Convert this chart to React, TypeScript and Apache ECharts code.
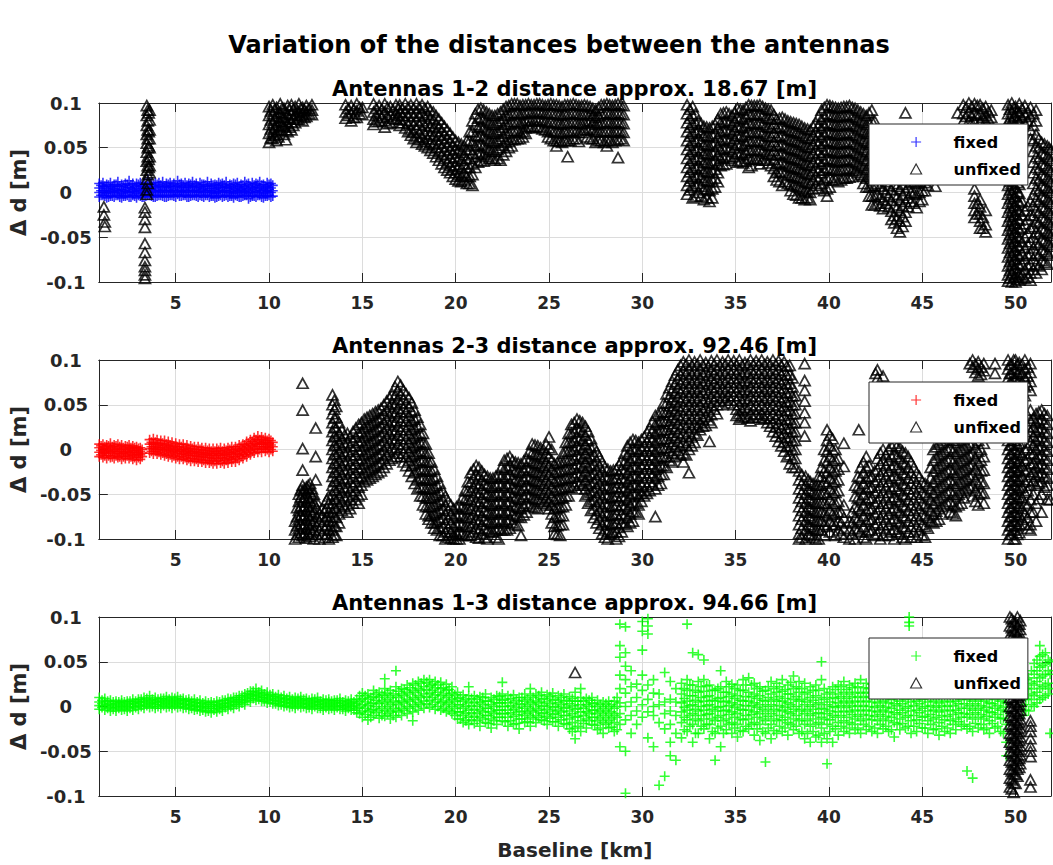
import React, { useEffect, useRef } from 'react';
import * as echarts from 'echarts';

// ---------- texts ----------
const mainTitle = 'Variation of the distances between the antennas';
const panelTitles = [
  'Antennas 1-2 distance approx. 18.67 [m]',
  'Antennas 2-3 distance approx. 92.46 [m]',
  'Antennas 1-3 distance approx. 94.66 [m]',
];
const legendLabels = ['fixed', 'unfixed'];
const xAxisTitle = 'Baseline [km]';
const yAxisTitle = '\u0394 d [m]';
const fixedColors = ['#0000ff', '#ff0000', '#00ff00'];

// ---------- data: rows are [baseline km, Δd values in mm ...] ----------
const fixed12: number[][] = [
  [0.9,-5,0,5,10],[1.1,-3,2,7,11],[1.3,-6,-1,4,9],[1.5,-4,1,6,11],[1.7,-5,0,4,9],[1.9,-3,2,7,12],
  [2.1,-6,-1,3,9],[2.3,-4,1,5,10],[2.5,-5,0,6,13],[2.7,-3,1,5,10],[2.9,-6,-1,4,10],[3.1,-4,2,7,11],
  [3.3,-5,0,5,10],[3.5,-3,1,6,15],[3.7,-4,0,4,10],[3.9,-5,1,6,11],[4.1,-3,2,7,11],[4.3,-4,0,5,12],
  [4.5,-5,1,6,10],[4.7,-3,2,7,11],[4.9,-4,0,5,10],[5.1,-2,2,7,13],[5.3,-4,1,6,10],[5.5,-3,0,5,11],
  [5.7,-5,1,6,10],[5.9,-3,2,7,12],[6.1,-4,0,5,10],[6.3,-3,1,6,11],[6.5,-5,0,4,9],[6.7,-3,2,7,12],
  [6.9,-4,0,5,10],[7.1,-6,-1,4,9],[7.3,-4,1,6,11],[7.5,-5,0,5,10],[7.7,-3,2,6,12],[7.9,-4,0,5,9],
  [8.1,-6,-1,4,10],[8.3,-4,1,6,11],[8.5,-5,0,4,9],[8.7,-3,1,6,12],[8.9,-7,-1,4,10],[9.1,-4,0,5,11],
  [9.3,-5,1,6,10],[9.5,-3,0,5,12],[9.7,-6,-1,4,9],[9.9,-4,1,6,11],[10.1,-5,0,5,10],
];
const fixed12Extra: number[][] = [
  [1.0,-3,2,8],[1.2,-4,2,7],[1.4,-5,1,8],[1.6,-4,2,7],[1.8,-3,3,9],[2.0,-5,1,7],[2.2,-4,2,8],[2.4,-3,3,9],
  [2.6,-5,2,8],[2.8,-4,1,7],[3.0,-3,3,9],[3.2,-5,2,8],[3.4,-4,1,7],[3.6,-3,3,9],[3.8,-5,2,8],[4.0,-4,3,9],
  [4.2,-3,2,8],[4.4,-5,2,7],[4.6,-4,3,9],[4.8,-3,2,8],[5.0,-5,1,7],[5.2,-4,3,9],[5.4,-3,2,8],[5.6,-5,2,8],
  [5.8,-4,3,9],[6.0,-3,2,8],[6.2,-5,1,7],[6.4,-4,3,9],[6.6,-3,2,8],[6.8,-5,2,7],[7.0,-4,1,8],[7.2,-5,2,8],
  [7.4,-3,3,9],[7.6,-4,2,8],[7.8,-5,1,7],[8.0,-4,2,8],[8.2,-3,3,9],[8.4,-5,2,7],[8.6,-4,2,8],[8.8,-3,3,9],
  [9.0,-5,1,7],[9.2,-4,2,8],[9.4,-3,3,9],[9.6,-5,2,8],[9.8,-4,2,7],[10.0,-3,3,9],[10.2,-4,2,8],
];

const unfixed12: number[][] = [
  [1.15,-16,-25],[1.2,-33,-38],
  [3.35,-17,-22,-30,-39,-57,-67,-76,-83,-87,-92,-96],
  [3.45,97,86,75,65,55,45,35,25,15,3,-2],[3.55,89,68,52,37,28],[3.6,92,81,70,60,50,40,30,22],
  [10.0,96,86,76,66,56],[10.2,98,88,78,68,60],[10.4,95,85,75,65,58],[10.6,99,89,79,70],
  [10.8,94,84,74,65],[10.9,59],[11.0,97,87,77,68],[11.2,98,88,79,70],[11.4,96,86,78],
  [11.6,99,90,82],[11.8,95,87,80],[12.0,97,90,85],[12.3,98,92,87],
  [14.1,98,90,83],[14.4,97,88,80],[14.7,99,91,84],[15.0,95,87],
  [15.6,99,90,82,76],[15.9,97,88,80],[16.2,99,90,80,73],[16.5,96,87,78],[16.8,98,89,82],
  [17.0,98,90,82,75],[17.3,99,90,81,72],[17.6,98,89,80,70,64],[17.9,99,90,81,72,62,56],
  [18.2,98,89,80,71,62,54],[18.5,96,87,78,69,60,50],[18.8,90,81,72,63,54,44],
  [19.1,82,73,64,55,46,36],[19.4,74,65,56,47,38,28],[19.7,66,57,48,39,30,22],
  [20.0,58,49,40,31,22,15],[20.3,54,45,36,27,18,12],[20.6,58,48,38,28,18,10],
  [20.9,80,68,56,44,32,20,8],[21.2,93,83,73,63,53,43,34],[21.5,92,82,72,62,52,42,35],
  [21.8,88,78,68,58,48,38],[22.1,86,76,66,56,46,36],[22.4,90,80,70,60,50,36],
  [22.7,96,86,76,66,56,46],[23.0,99,89,79,69,59,52],[23.3,99,89,79,69,60],
  [23.6,98,88,78,68,62],[23.9,99,90,81,74],[24.2,98,89,80,72],[24.5,99,90,81,73],
  [24.8,97,88,79,70],[25.1,99,89,79,69,60],[25.4,98,88,78,68,58,52],[25.7,96,86,76,66,56],
  [26.0,98,88,78,68,58,40],[26.3,99,89,79,69,60],[26.6,97,87,77,67,57],[26.9,98,88,78,70],
  [27.2,96,88,80,72,60],[27.5,92,84,76,68,56],[27.8,98,88,78,68,58],[28.1,99,89,79,69,58,52],
  [28.4,97,87,77,67,56],[28.7,99,89,79,69,59,39],[29.0,97,87,77,67,58],
  [32.4,98,88,78,68,58,48,38,28,18,8,-2],[32.7,96,86,76,66,56,46,36,26,16,6,-6],
  [33.0,80,70,60,50,40,30,20,10,0],[33.3,74,64,54,44,34,24,14,4,-8],
  [33.6,72,62,52,42,32,22,12,2,-10],[33.9,76,66,56,46,36,26,16,6],
  [34.2,88,78,68,58,48,38,30],[34.5,90,80,70,60,50,40,32],[34.8,86,76,66,56,46,36],
  [35.1,94,84,74,64,54,44,34],[35.4,92,82,72,62,52,42,33],[35.7,98,88,78,68,58,48,38,28],
  [36.0,97,87,77,67,57,47,37],[36.3,98,88,78,68,58,48,38,32],[36.6,94,84,74,64,54,44,36],
  [36.9,92,82,72,62,52,42,30],[37.2,82,72,62,52,42,32,22,14],[37.5,84,74,64,54,44,34,24,8],
  [37.8,80,70,60,50,40,30,20,10],[38.1,78,68,58,48,38,28,18,8,-2],[38.4,76,66,56,46,36,26,16,6,-6],
  [38.7,72,62,52,42,32,22,12,2,-8],[39.0,70,60,50,40,30,20,10,0,-8],[39.3,78,68,58,48,38,28,18,8],
  [39.6,92,82,72,62,52,42,32,22,10],[39.9,98,88,78,68,58,48,38,28,16,4,-4],
  [40.2,96,86,76,66,56,46,36,26,14],[40.5,94,84,74,64,54,44,34,24,12],
  [40.8,96,86,76,66,56,46,36,26,16],[41.1,97,87,77,67,57,47,37,27,17],
  [41.4,94,84,74,64,54,44,34,24],[41.7,90,80,70,60,50,40,30,20],[42.0,86,76,66,56,46,36,26,16,6],
  [42.3,92,80,68,56,44,32,20,8,-4,-14],[42.6,70,58,46,34,22,10,-2,-12],[42.9,64,52,40,28,16,4,-8,-18],
  [43.2,56,44,32,20,8,-4,-16],[43.5,46,34,22,10,-2,-14,-26,-34],[43.8,40,28,16,4,-8,-20,-32,-44],
  [44.1,89,50,38,26,14,2,-10,-22,-32],[44.4,60,48,36,24,12,0,-10],[44.7,58,46,34,22,10,-2,-17],
  [45.0,62,50,38,26,14,2,-8],[45.3,56,44,32,20,8],[45.7,7],[46.9,89],
  [47.2,98,88,80],[47.5,100,90,80],[47.8,99,89,79,4,-4,-12,-20,-28],
  [48.1,98,88,79,-8,-16,-24,-32,-40],[48.4,96,86,80,-20,-36,-44],[48.7,92,84],
  [49.6,98,88,78,68,58,48,38,28,18,8,-2,-12,-22,-32,-42,-52,-62,-72,-82,-92,-99],
  [49.8,100,90,80,70,60,50,40,30,20,10,0,-10,-20,-30,-40,-50,-60,-70,-80,-90,-100],
  [50.0,96,86,76,66,56,46,36,26,16,6,-4,-14,-24,-34,-44,-54,-64,-74,-84,-94,-100],
  [50.2,99,89,79,69,59,49,39,29,19,9,-1,-11,-21,-31,-41,-51,-61,-71,-81,-91,-98],
  [50.5,97,87,77,-20,-35,-50,-62,-74,-86,-96],
  [50.8,95,85,70,60,-10,-25,-40,-55,-68,-80,-90,-98],
  [51.1,92,80,65,52,40,28,16,4,-8,-20,-32,-44,-56,-68,-80,-90],
  [51.4,56,44,32,20,8,-4,-16,-28,-40,-52,-64,-76,-86],
  [51.7,52,40,28,16,4,-8,-20,-32,-44,-56,-68,-80],
  [51.9,48,36,24,12,0,-12,-24,-36,-48,-60],
];
const unfixed12Extra: number[][] = [
  [3.5,92,80,70,60,50,40,30,20,10],
  [10.1,91,81,71,61],[10.3,93,83,73,64],[10.5,90,80,70,62],[10.7,94,84,75],[10.9,89,79,70],[11.1,92,82,73],
  [11.3,93,84,75],[11.5,91,82],[11.7,94,86],[11.9,92,84],[12.15,94,88],
  [14.25,94,86],[14.55,93,84],[14.85,95,88],[15.75,94,86,79],[16.05,93,84],[16.35,95,85,77],[16.65,92,83],[16.95,94,86,78],
  [17.15,94,86,78],[17.45,95,86,77,68],[17.75,94,85,76,67,60],[18.05,95,86,76,67,59],[18.35,94,85,75,66,57,52],
  [18.65,92,83,74,65,56,47],[18.95,86,77,68,59,50,40],[19.25,78,69,60,51,42,32],[19.55,70,61,52,43,34,25],
  [19.85,62,53,44,35,26,18],[20.15,56,47,38,29,20,13],[20.45,52,42,32,22,14],[20.75,68,58,48,38,28,18,10],
  [21.05,88,76,64,52,40,28],[21.35,94,84,74,64,54,44,36],[21.65,90,80,70,60,50,40],[21.95,86,76,66,56,46,38],
  [22.25,88,78,68,58,48,38],[22.55,93,83,73,63,53,42],[22.85,97,87,77,67,57,50],[23.15,99,89,79,69,59],
  [23.45,97,87,77,67,60],[23.75,98,89,80,72,66],[24.05,98,89,80,73],[24.35,99,90,81,74],[24.65,98,89,80,71],
  [24.95,98,88,78,68,62],[25.25,98,88,78,68,58],[25.55,97,87,77,67,57],[25.85,98,88,78,68,58],
  [26.15,98,88,78,68,58],[26.45,98,88,78,68,60],[26.75,97,87,77,67],[27.05,97,88,79,70,62],
  [27.35,94,86,78,70,60],[27.65,95,86,77,68,58],[27.95,98,88,78,68,56],[28.25,98,88,78,68,58],
  [28.55,98,88,78,68,58],[28.85,98,88,78,68,60],
  [32.55,93,83,73,63,53,43,33,23,13,3],[32.85,88,78,68,58,48,38,28,18,8,-4],[33.15,77,67,57,47,37,27,17,7,-4],
  [33.45,73,63,53,43,33,23,13,3,-6],[33.75,74,64,54,44,34,24,14,4,-6],[34.05,82,72,62,52,42,32,22,12],
  [34.35,89,79,69,59,49,39,31],[34.65,88,78,68,58,48,38],[34.95,90,80,70,60,50,40],
  [35.25,93,83,73,63,53,43,35],[35.55,95,85,75,65,55,45,35],[35.85,97,87,77,67,57,47,37,30],
  [36.15,97,87,77,67,57,47,37],[36.45,96,86,76,66,56,46,36],[36.75,93,83,73,63,53,43,33],
  [37.05,87,77,67,57,47,37,27,18],[37.35,83,73,63,53,43,33,23,12],[37.65,82,72,62,52,42,32,22,12],
  [37.95,79,69,59,49,39,29,19,9,2],[38.25,77,67,57,47,37,27,17,7,-3],[38.55,74,64,54,44,34,24,14,4,-6],
  [38.85,71,61,51,41,31,21,11,1,-6],[39.15,74,64,54,44,34,24,14,4],[39.45,85,75,65,55,45,35,25,15,5],
  [39.75,95,85,75,65,55,45,35,25,14,2],[40.05,97,87,77,67,57,47,37,27,17,6],[40.35,95,85,75,65,55,45,35,25,14],
  [40.65,95,85,75,65,55,45,35,25,14],[40.95,96,86,76,66,56,46,36,26,16],[41.25,95,85,75,65,55,45,35,25,18],
  [41.55,92,82,72,62,52,42,32,22],[41.85,88,78,68,58,48,38,28,18,10],[42.15,89,78,66,54,42,30,18,6,-4],
  [42.45,80,68,56,44,32,20,8,-4,-14],[42.75,67,55,43,31,19,7,-5,-15],[43.05,60,48,36,24,12,0,-12],
  [43.35,51,39,27,15,3,-9,-21,-30],[43.65,43,31,19,7,-5,-17,-29,-40],[43.95,45,33,21,9,-3,-15,-27,-38],
  [44.25,54,42,30,18,6,-6,-16],[44.55,59,47,35,23,11,-1,-12],[44.85,60,48,36,24,12,0,-10],[45.15,59,47,35,23,11,2],
  [47.35,95,85],[47.65,96,86,78],[47.95,97,87,-12,-24],[48.25,94,84,-28,-40],[48.55,90,82],
  [49.7,93,83,73,63,53,43,33,23,13,3,-7,-17,-27,-37,-47,-57,-67,-77,-87,-96],
  [49.9,95,85,75,65,55,45,35,25,15,5,-5,-15,-25,-35,-45,-55,-65,-75,-85,-95],
  [50.1,91,81,71,61,51,41,31,21,11,1,-9,-19,-29,-39,-49,-59,-69,-79,-89,-97],
  [50.35,94,84,74,-10,-25,-40,-55,-68,-80,-92],[50.65,90,80,-15,-30,-45,-58,-70,-82,-94],
  [50.95,88,75,58,46,34,22,10,-2,-14,-26,-38,-50,-62,-74,-86],
  [51.25,60,50,38,26,14,2,-10,-22,-34,-46,-58,-70,-82],
  [51.55,54,42,30,18,6,-6,-18,-30,-42,-54,-66,-78],
  [51.8,50,38,26,14,2,-10,-22,-34,-46,-58,-70],
];

const fixed23: number[][] = [
  [0.9,-8,-3,2,6],[1.1,-9,-4,1,6],[1.3,-10,-4,1,5],[1.5,-9,-3,2,7],[1.7,-10,-5,0,5],[1.9,-9,-4,1,6],
  [2.1,-11,-5,0,5],[2.3,-10,-5,0,4],[2.5,-10,-4,1,5],[2.7,-11,-6,-1,4],[2.9,-12,-6,-1,3],[3.1,-11,-6,-2,2],
  [3.6,-4,1,6,11],[3.8,-5,1,6,12],[4.0,-5,0,5,11],[4.2,-6,0,5,10],[4.4,-7,-1,4,10],[4.6,-8,-2,3,9],
  [4.8,-9,-3,2,8],[5.0,-10,-4,1,7],[5.2,-11,-5,0,6],[5.4,-11,-5,0,6],[5.6,-12,-6,-1,5],[5.8,-13,-7,-2,4],
  [6.0,-13,-7,-2,3],[6.2,-14,-8,-3,3],[6.4,-14,-8,-3,2],[6.6,-15,-9,-4,2],[6.8,-15,-9,-4,1],[7.0,-16,-10,-5,1],
  [7.2,-16,-10,-4,1],[7.4,-15,-9,-4,2],[7.6,-16,-10,-5,1],[7.8,-15,-9,-3,2],[8.0,-14,-8,-3,3],[8.2,-14,-8,-2,3],
  [8.4,-12,-6,-1,5],[8.6,-10,-5,1,6],[8.8,-8,-3,3,9],[9.0,-6,-1,5,11],[9.2,-4,1,7,13],[9.4,-3,3,9,15],
  [9.6,-3,3,8,14],[9.8,-2,3,8,13],[10.0,-3,2,7,12],[10.2,-2,3,8],
];
const fixed23Extra: number[][] = [
  [1.0,-6,-1,4],[1.2,-7,-2,3],[1.4,-7,-1,4],[1.6,-8,-2,3],[1.8,-7,-2,4],[2.0,-8,-2,3],[2.2,-8,-3,2],[2.4,-7,-2,3],
  [2.6,-8,-3,2],[2.8,-9,-3,2],[3.0,-9,-4,1],[3.2,-8,-4,0],[3.7,-2,3,8],[3.9,-2,3,8],[4.1,-3,2,7],[4.3,-4,2,7],
  [4.5,-5,1,6],[4.7,-6,0,5],[4.9,-7,-1,4],[5.1,-8,-2,3],[5.3,-8,-2,3],[5.5,-9,-3,2],[5.7,-10,-4,1],[5.9,-10,-4,1],
  [6.1,-11,-5,0],[6.3,-11,-5,0],[6.5,-12,-6,-1],[6.7,-12,-6,-1],[6.9,-13,-7,-2],[7.1,-13,-7,-2],[7.3,-12,-6,-1],
  [7.5,-13,-7,-2],[7.7,-12,-6,-1],[7.9,-11,-5,0],[8.1,-11,-5,0],[8.3,-10,-4,1],[8.5,-8,-2,3],[8.7,-6,0,5],
  [8.9,-4,2,7],[9.1,-2,4,9],[9.3,0,6,11],[9.5,0,6,11],[9.7,1,6,11],[9.9,0,5,10],[10.1,0,5,10],
];

const unfixed23: number[][] = [
  [11.4,-100,-90,-80],[11.6,-98,-88,-78,-68,-58,-50],
  [11.8,74,44,1,-23,-96,-86,-76,-66,-56,-46,-40],[12.0,-99,-89,-79,-69,-59,-49,-42],
  [12.2,-97,-87,-77,-67,-57,-47,-38],[12.4,-100,-90,-80,-70,-60,-50],[12.5,24,-8,-34],
  [12.7,-100,-90,-80,-72],[13.0,-98,-88,-78,-68],[13.2,-100,-90,-80,-70,-60,-52],
  [13.4,61,50,40,30,20,10,0,-10,-20,-30,-40,-50,-60,-70,-80,-90,-98],
  [13.6,48,36,24,14,4,-6,-16,-26,-36,-46,-56,-66,-76,-86,-96],
  [13.9,22,12,2,-8,-18,-28,-38,-48,-58,-68],[14.2,18,8,-2,-12,-22,-32,-42,-52,-62,-70],
  [14.5,20,10,0,-10,-20,-30,-40,-50,-60],[14.8,28,18,8,-2,-12,-22,-32,-42,-52,-60],
  [15.1,34,24,14,4,-6,-16,-26,-36],[15.4,38,28,18,8,-2,-12,-22,-32],[15.7,42,32,22,12,2,-8,-18,-28],
  [16.0,46,36,26,16,6,-4,-14,-24],[16.3,54,44,34,24,14,4,-6,-16],[16.6,62,52,42,32,22,12,2,-10],
  [16.9,76,66,56,46,36,26,16,6,-4],[17.2,66,56,46,36,26,16,6,-4,-14],[17.5,58,48,38,28,18,8,-2,-12,-24],
  [17.8,44,34,24,14,4,-6,-16,-26,-38],[18.1,28,18,8,-2,-12,-22,-32,-42,-52],
  [18.4,6,-4,-14,-24,-34,-44,-54,-64,-72],[18.7,-14,-24,-34,-44,-54,-64,-74,-82],
  [19.0,-30,-40,-50,-60,-70,-80,-90],[19.3,-46,-56,-66,-76,-86,-96],[19.6,-58,-68,-78,-88,-98],
  [19.9,-66,-76,-86,-96,-100],[20.2,-62,-72,-82,-92,-100],[20.5,-46,-56,-66,-76,-86,-96],
  [20.8,-26,-36,-46,-56,-66,-76,-86,-96],[21.1,-18,-28,-38,-48,-58,-68,-78,-88,-98],
  [21.4,-24,-34,-44,-54,-64,-74,-84,-94],[21.7,-30,-40,-50,-60,-70,-80,-90,-100],
  [22.0,-32,-42,-52,-62,-72,-82,-92],[22.3,-28,-38,-48,-58,-68,-78,-88,-100],
  [22.6,-12,-22,-32,-42,-52,-62,-72,-82,-90],[22.9,-8,-18,-28,-38,-48,-58,-68,-78,-88],
  [23.2,-14,-24,-34,-44,-54,-64,-74,-84],[23.5,-16,-26,-36,-46,-56,-66,-76,-96],
  [23.8,-10,-20,-30,-40,-50,-60,-70],[24.1,6,-4,-14,-24,-34,-44,-54,-64],
  [24.4,4,-6,-16,-26,-36,-46,-56,-66],[24.7,0,-10,-20,-30,-40,-50,-60],
  [25.0,14,2,-8,-18,-28,-38,-48,-58,-66],[25.3,-16,-26,-36,-46,-56,-66,-76,-86,-94],
  [25.6,-14,-24,-34,-44,-54,-64,-74,-84,-96],[25.9,8,-2,-12,-22,-32,-42,-52,-62],
  [26.2,28,18,8,-2,-12,-22,-32,-42],[26.5,34,24,14,4,-6,-16,-26,-36,-44],
  [26.8,30,20,10,0,-10,-20,-30,-40],[27.1,20,10,0,-10,-20,-30,-40,-50,-60],
  [27.4,4,-6,-16,-26,-36,-46,-56,-66,-76],[27.7,-8,-18,-28,-38,-48,-58,-68,-78,-88],
  [28.0,-20,-30,-40,-50,-60,-70,-80,-90,-98],[28.3,-24,-34,-44,-54,-64,-74,-84,-94],
  [28.6,-22,-32,-42,-52,-62,-72,-82,-92,-100],[28.9,-12,-22,-32,-42,-52,-62,-72,-82,-92],
  [29.2,4,-6,-16,-26,-36,-46,-56,-66,-76,-86],[29.5,11,1,-9,-19,-29,-39,-49,-59,-69,-80],
  [29.8,8,-2,-12,-22,-32,-42,-52,-62,-72],[30.1,14,4,-6,-16,-26,-36,-46,-52],
  [30.4,24,14,4,-6,-16,-26,-36,-46],[30.7,38,28,18,8,-2,-12,-22,-32,-44,-75],
  [31.0,42,32,22,12,2,-8,-18,-28,-38],[31.3,62,52,42,32,22,12,2,-8,-20],
  [31.6,76,66,56,46,36,26,16,6,-4,-14],[31.9,89,79,69,59,49,39,29,19,9,-1],
  [32.2,98,88,78,68,58,48,38,28,18,8,-4,-14],[32.5,100,90,80,70,60,50,40,30,20,10,0,-26],
  [32.8,98,88,78,68,58,48,38,28,18,8],[33.1,100,90,80,70,60,50,40,30,22],
  [33.4,97,87,77,67,57,47,37,27],[33.6,9],[33.7,99,89,79,69,59,49,39,30],
  [34.0,100,90,80,70,60,50,40],[34.3,98,88,78,68,58,50],[34.6,100,90,80,70,60,52],
  [34.9,99,89,79,69,60,50],[35.2,100,90,80,70,60,50,40,34],[35.5,97,87,77,67,57,47,37],
  [35.8,100,90,80,70,60,50,40,32],[36.1,99,89,79,69,59,49,39],[36.4,100,90,80,70,60,50,40,34],
  [36.7,98,88,78,68,58,48,38,30],[37.0,100,90,80,70,60,50,40,30,20],
  [37.3,99,89,79,69,59,49,39,29,19,9],[37.6,98,88,78,68,58,48,38,28,18,8,-2],
  [37.9,94,84,74,64,54,44,34,24,14,4,-6,-16],[38.2,60,50,40,30,20,10,0,-10,-20],
  [38.7,96,77,66,54,41,30,15],
  [38.4,-24,-34,-44,-54,-64,-74,-84,-94,-100],[38.75,-30,-40,-50,-60,-70,-80,-90,-100],
  [39.0,-36,-46,-56,-66,-76,-86,-96],[39.3,-40,-50,-60,-70,-80,-90,-100],
  [39.6,-20,-30,-40,-50,-60,-70,-80,-90],[39.9,22,10,-2,-14,-26,-38,-50,-62,-74,-86],
  [40.2,12,0,-12,-24,-36,-48,-60,-72,-84],[40.5,-10,-22,-34,-46,-58,-70,-80,-90],
  [40.8,7,-19,-62,-76,-88,-98],[41.1,-80,-90,-100],[41.4,-40,-52,-64,-76,-88,-100],[41.6,22],
  [41.7,-20,-32,-44,-56,-68,-80,-92],[42.0,-8,-20,-32,-44,-56,-68,-80,-92,-100],
  [42.3,-30,-42,-54,-66,-78,-90],[42.5,85],[42.6,89,80,-10,-22,-34,-46,-58,-70,-82,-94],
  [42.9,82,0,-12,-24,-36,-48,-60,-72,-84,-96],[43.2,0,-12,-24,-36,-48,-60,-72,-84,-96],
  [43.5,7,-5,-17,-29,-41,-53,-65,-77,-89,-100],[43.8,2,-10,-22,-34,-46,-58,-70,-82,-94],
  [44.1,-4,-16,-28,-40,-52,-64,-76,-88,-100],[44.4,-14,-26,-38,-50,-62,-74,-86,-98],
  [44.7,-26,-38,-50,-62,-74,-86,-98],[45.0,-36,-48,-60,-72,-84,-96],[45.3,-40,-52,-64,-76,-88],
  [45.6,0,-12,-24,-36,-48,-60,-72,-82],[45.9,6,-6,-18,-30,-42,-54,-66,-78],
  [46.2,10,-2,-14,-26,-38,-50,-62],[46.5,14,2,-10,-22,-34,-46,-58,-70],
  [46.8,8,-4,-16,-28,-40,-52,-64,-74],[47.1,12,0,-12,-24,-36,-48,-60],[47.4,16,4,-8,-20,-32,-44],
  [47.7,100,92,20,8,-4,-16,-28,-40,-52],[48.0,98,90,82,10,-2,-14,-26,-38,-50,-62],
  [48.3,96,88,7,-8,-23,-38,-49,-60],[48.9,96,85],
  [49.6,100,90,80,70,60,50,40,30,20,10,0,-10,-20,-30,-40,-50,-60,-70,-80,-90,-100],
  [49.8,95,85,75,65,55,45,35,25,15,5,-5,-15,-25,-35,-45,-55,-65,-75,-85,-95],
  [50.0,100,90,80,70,60,50,40,30,20,10,0,-10,-20,-30,-40,-50,-60,-70,-80,-90,-100],
  [50.2,97,87,77,67,57,47,37,27,17,7,-3,-13,-23,-33,-43,-53,-63,-73,-83,-93],
  [50.5,100,90,80,70,60,0,-12,-24,-36,-48,-60,-72,-84],
  [50.8,96,86,76,66,44,32,20,8,-4,-16,-28,-40,-56,-70,-84,-90],
  [51.1,40,30,20,10,0,-10,-20,-30,-40,-60,-80],[51.4,44,34,24,14,4,-6,-16,-26,-36,-50,-70],
  [51.7,38,28,18,8,-2,-12,-22,-32,-40,-56],[51.85,-56],
];
const unfixed23Extra: number[][] = [
  [11.5,-95,-85,-75,-65],[11.7,-93,-83,-73,-63,-53,-45],[11.9,-94,-84,-74,-64,-54,-44],
  [12.1,-94,-84,-74,-64,-54,-45,-40],[12.3,-92,-82,-72,-62,-52,-44],[12.55,-95,-85,-75,-65,-58],
  [12.85,-94,-84,-74,-66],[13.1,-95,-85,-75,-65,-56],
  [13.5,55,45,35,25,15,5,-5,-15,-25,-35,-45,-55,-65,-75,-85,-95],
  [13.75,30,18,8,-2,-12,-22,-32,-42,-52,-62,-72,-82],[14.05,16,6,-4,-14,-24,-34,-44,-54,-64],
  [14.35,14,4,-6,-16,-26,-36,-46,-56,-66],[14.65,24,14,4,-6,-16,-26,-36,-46,-56],
  [14.95,30,20,10,0,-10,-20,-30,-40,-50],[15.25,36,26,16,6,-4,-14,-24,-34],
  [15.55,40,30,20,10,0,-10,-20,-30],[15.85,44,34,24,14,4,-6,-16,-26],[16.15,50,40,30,20,10,0,-10,-20],
  [16.45,58,48,38,28,18,8,-2,-12],[16.75,70,60,50,40,30,20,10,0,-8],[17.05,72,62,52,42,32,22,12,2,-8],
  [17.35,62,52,42,32,22,12,2,-8,-18],[17.65,52,42,32,22,12,2,-8,-18,-30],
  [17.95,36,26,16,6,-4,-14,-24,-34,-44],[18.25,18,8,-2,-12,-22,-32,-42,-52,-62],
  [18.55,-4,-14,-24,-34,-44,-54,-64,-74,-78],[18.85,-22,-32,-42,-52,-62,-72,-82,-88],
  [19.15,-38,-48,-58,-68,-78,-88,-96],[19.45,-52,-62,-72,-82,-92,-100],[19.75,-62,-72,-82,-92,-99],
  [20.05,-64,-74,-84,-94,-100],[20.35,-54,-64,-74,-84,-94],[20.65,-36,-46,-56,-66,-76,-86,-96],
  [20.95,-22,-32,-42,-52,-62,-72,-82,-92],[21.25,-20,-30,-40,-50,-60,-70,-80,-90,-99],
  [21.55,-28,-38,-48,-58,-68,-78,-88,-98],[21.85,-32,-42,-52,-62,-72,-82,-92],
  [22.15,-30,-40,-50,-60,-70,-80,-90,-98],[22.45,-20,-30,-40,-50,-60,-70,-80,-90],
  [22.75,-10,-20,-30,-40,-50,-60,-70,-80,-90],[23.05,-12,-22,-32,-42,-52,-62,-72,-82],
  [23.35,-15,-25,-35,-45,-55,-65,-75,-85],[23.65,-13,-23,-33,-43,-53,-63,-73],
  [23.95,-2,-12,-22,-32,-42,-52,-62],[24.25,5,-5,-15,-25,-35,-45,-55,-65],[24.55,2,-8,-18,-28,-38,-48,-58],
  [24.85,6,-4,-14,-24,-34,-44,-54,-62],[25.15,0,-12,-22,-32,-42,-52,-62,-72,-82],
  [25.45,-15,-25,-35,-45,-55,-65,-75,-85,-95],[25.75,-4,-14,-24,-34,-44,-54,-64,-74,-84],
  [26.05,18,8,-2,-12,-22,-32,-42,-52],[26.35,30,20,10,0,-10,-20,-30,-40],[26.65,32,22,12,2,-8,-18,-28,-38],
  [26.95,26,16,6,-4,-14,-24,-34,-44,-52],[27.25,12,2,-8,-18,-28,-38,-48,-58,-68],
  [27.55,-2,-12,-22,-32,-42,-52,-62,-72,-82],[27.85,-14,-24,-34,-44,-54,-64,-74,-84,-94],
  [28.15,-22,-32,-42,-52,-62,-72,-82,-92,-100],[28.45,-23,-33,-43,-53,-63,-73,-83,-93],
  [28.75,-17,-27,-37,-47,-57,-67,-77,-87,-97],[29.05,-4,-14,-24,-34,-44,-54,-64,-74,-84],
  [29.35,8,-2,-12,-22,-32,-42,-52,-62,-72,-82],[29.65,10,0,-10,-20,-30,-40,-50,-60,-70],
  [29.95,11,1,-9,-19,-29,-39,-49,-58],[30.25,19,9,-1,-11,-21,-31,-41,-49],
  [30.55,31,21,11,1,-9,-19,-29,-39],[30.85,40,30,20,10,0,-10,-20,-30,-40],
  [31.15,52,42,32,22,12,2,-8,-18,-28],[31.45,69,59,49,39,29,19,9,-1,-12],
  [31.75,83,73,63,53,43,33,23,13,3,-8],[32.05,94,84,74,64,54,44,34,24,14,4,-6],
  [32.35,95,85,75,65,55,45,35,25,15,5,-6],[32.65,94,84,74,64,54,44,34,24,14,4],
  [32.95,95,85,75,65,55,45,35,25,16],[33.25,94,84,74,64,54,44,34,26],[33.55,93,83,73,63,53,43,33],
  [33.85,95,85,75,65,55,45],[34.15,94,84,74,64,54],[34.45,95,85,75,65,55],[34.75,95,85,75,65,55],
  [35.05,95,85,75,65,55,45,38],[35.35,94,84,74,64,54,44,36],[35.65,95,85,75,65,55,45,35],
  [35.95,95,85,75,65,55,45,36],[36.25,95,85,75,65,55,45,36],[36.55,95,85,75,65,55,45,35],
  [36.85,95,85,75,65,55,45,35,26],[37.15,95,85,75,65,55,45,35,25,15],[37.45,94,84,74,64,54,44,34,24,14,4],
  [37.75,93,83,73,63,53,43,33,23,13,3,-8],[38.05,80,70,60,50,40,30,20,10,0,-10,-20],
  [38.55,-28,-38,-48,-58,-68,-78,-88,-98],[38.9,-34,-44,-54,-64,-74,-84,-94],
  [39.15,-38,-48,-58,-68,-78,-88,-98],[39.45,-30,-40,-50,-60,-70,-80,-90,-100],
  [39.75,0,-12,-24,-36,-48,-60,-72,-84,-96],[40.05,16,4,-8,-20,-32,-44,-56,-68,-80,-92],
  [40.35,0,-12,-24,-36,-48,-60,-72,-84,-96],[40.65,-70,-82,-94],[41.25,-70,-82,-94],
  [41.55,-30,-42,-54,-66,-78,-90],[41.85,-14,-26,-38,-50,-62,-74,-86,-98],
  [42.15,-18,-30,-42,-54,-66,-78,-90],[42.45,-24,-36,-48,-60,-72,-84,-96],
  [42.75,-4,-16,-28,-40,-52,-64,-76,-88,-100],[43.05,-6,-18,-30,-42,-54,-66,-78,-90],
  [43.35,4,-8,-20,-32,-44,-56,-68,-80,-92],[43.65,4,-8,-20,-32,-44,-56,-68,-80,-92],
  [43.95,-2,-14,-26,-38,-50,-62,-74,-86,-98],[44.25,-8,-20,-32,-44,-56,-68,-80,-92],
  [44.55,-20,-32,-44,-56,-68,-80,-92],[44.85,-30,-42,-54,-66,-78,-90],[45.15,-38,-50,-62,-74,-86,-98],
  [45.45,-20,-32,-44,-56,-68,-80],[45.75,3,-9,-21,-33,-45,-57,-69,-80],[46.05,8,-4,-16,-28,-40,-52,-64,-72],
  [46.35,12,0,-12,-24,-36,-48,-60],[46.65,10,-2,-14,-26,-38,-50,-62,-72],[46.95,10,-2,-14,-26,-38,-50,-62],
  [47.25,14,2,-10,-22,-34,-46,-54],[47.55,96,18,6,-6,-18,-30,-42],[47.85,95,86,14,2,-10,-22,-34,-46,-58],
  [48.15,92,84,0,-12,-24,-36,-48],
  [49.7,95,85,75,65,55,45,35,25,15,5,-5,-15,-25,-35,-45,-55,-65,-75,-85,-95],
  [49.9,100,90,80,70,60,50,40,30,20,10,0,-10,-20,-30,-40,-50,-60,-70,-80,-90,-100],
  [50.1,95,85,75,65,55,45,35,25,15,5,-5,-15,-25,-35,-45,-55,-65,-75,-85,-95],
  [50.35,95,85,75,65,-6,-18,-30,-42,-54,-66,-78],[50.65,92,82,72,38,26,14,2,-10,-22,-34,-46,-62,-76,-88],
  [50.95,35,25,15,5,-5,-15,-25,-35,-50,-70],[51.25,42,32,22,12,2,-8,-18,-28,-38,-55],
  [51.55,40,30,20,10,0,-10,-20,-30,-42],
];

const fixed13: number[][] = [
  [0.9,-3,1,5,10],[1.2,-4,1,5,9],[1.5,-5,-1,3,7],[1.8,-5,-1,3,6],[2.1,-4,0,4,7],[2.4,-5,-1,3,6],
  [2.7,-4,0,4,8],[3.0,-3,1,5,8],[3.3,-2,2,6,10],[3.6,-1,3,7,12],[3.9,-2,2,6,10],[4.2,-2,2,6,9],
  [4.5,-1,3,7,11],[4.8,-2,2,6,10],[5.1,-1,3,7,11],[5.4,-2,2,6,9],[5.7,-3,1,5,8],[6.0,-4,0,4,8],
  [6.3,-5,-1,3,7],[6.6,-6,-2,2,6],[6.9,-7,-2,2,5],[7.2,-6,-2,2,6],[7.5,-5,-1,3,7],[7.8,-3,1,5,9],
  [8.1,-2,2,6,10],[8.4,0,4,8,12],[8.7,2,6,10,14],[9.0,5,9,13,17],[9.3,7,11,15,20],[9.6,6,10,14,18],
  [9.9,4,8,12,16],[10.2,3,7,11,14],[10.5,1,5,9,13],[10.8,0,4,8,12],[11.1,-1,3,7,11],[11.4,-2,2,6,10],
  [11.7,-1,3,7,11],[12.0,-2,2,6,9],[12.3,-3,1,5,9],[12.6,-2,2,6,10],[12.9,-4,0,4,8],[13.2,-3,1,5,8],
  [13.5,-4,0,4,7],[13.8,-3,1,5,9],[14.1,-5,-1,3,7],[14.4,-4,0,4,8],[14.7,-7,-2,3,8],
  [15.0,-12,-5,2,9,15],[15.3,-15,-6,1,8,14],[15.6,-10,-3,4,11,18],[15.9,-13,-5,3,10,16],
  [16.2,-11,-4,4,12,20,31],[16.5,-14,-6,2,10,18],[16.8,-12,-4,4,12,22,40],[17.1,-10,-2,6,14,20],
  [17.4,-8,0,8,16,24],[17.7,-16,-6,2,10,18,26],[18.0,-4,4,12,20,28],[18.3,-2,6,14,22,30],
  [18.6,-1,7,15,23,30],[18.9,-3,5,13,21,28],[19.2,-4,4,12,20,27],[19.5,-6,2,10,18,25],
  [19.8,-8,0,8,15,22],[20.1,-14,-6,2,9,16],[20.4,-18,-10,-2,6,13],[20.7,-20,-12,-4,4,12,22],
  [21.0,-19,-11,-3,5,12],[21.3,-22,-12,-4,4,11],[21.6,-18,-10,-2,6,14],[21.9,-24,-14,-6,2,10],
  [22.2,-20,-12,-4,4,12],[22.5,-16,-8,0,7,14,27],[22.8,-22,-12,-4,4,12],[23.1,-20,-11,-3,5,13],
  [23.4,-25,-14,-5,3,10],[23.7,-18,-10,-2,6,14],[24.0,-22,-12,-4,4,12,20],[24.3,-18,-10,-2,6,14],
  [24.6,-15,-8,0,8,16],[24.9,-20,-11,-3,5,13],[25.2,-17,-9,-1,7,15],[25.5,-22,-12,-4,4,12],
  [25.8,-19,-10,-2,6,14],[26.1,-25,-14,-5,3,11],[26.4,-36,-24,-12,-3,6,16],[26.7,-28,-16,-6,2,10,20],
  [27.0,-24,-14,-6,2,9],[27.3,-20,-12,-4,4,10],[27.6,-26,-16,-8,0,7],[27.9,-30,-18,-10,-2,5],
  [28.2,-24,-16,-8,0,6],[28.5,-28,-18,-10,-2,6],[28.8,-45,-20,-8,4,20,35,55,68,92],
  [29.1,-97,-50,-15,0,15,30,45,60,89],[29.4,-30,-10,5,22,40],[29.7,-20,-5,10,25],
  [30.0,-12,2,18,35,63,84,95],[30.3,-35,-6,8,24,81,90,98],[30.6,-45,-10,0,15,30],
  [30.9,-88,-18,2,14],[31.2,-78,-25,-8,5,38],[31.5,-55,-40,-20,-5,8,28],[31.8,-60,-30,-10,5,20],
  [32.1,-35,-18,-6,4,14,26],[32.4,-28,-15,-4,6,18,30,92],[32.7,-40,-20,-8,2,12,24,60],
  [33.0,-30,-16,-5,5,16,28,58],[33.3,-25,-14,-4,6,17,30,52],[33.6,-36,-20,-8,2,12,24],
  [33.9,-60,-30,-16,-5,6,18],[34.2,-45,-22,-10,0,10,22,40],[34.5,-26,-14,-4,6,16,28],
  [34.8,-30,-18,-6,4,14,25],[35.1,-34,-20,-8,2,12,24],[35.4,-28,-15,-4,6,18,30],
  [35.7,-25,-14,-4,6,16,32],[36.0,-32,-18,-6,4,14,26],[36.3,-38,-20,-8,2,12,22],
  [36.6,-62,-30,-16,-5,6,18],[36.9,-36,-20,-8,2,14,28],[37.2,-30,-16,-5,6,16,26],
  [37.5,-28,-15,-4,6,17,30],[37.8,-32,-18,-6,4,14,24],[38.1,-26,-14,-3,8,20,34],
  [38.4,-30,-16,-5,6,16,28],[38.7,-36,-20,-8,2,14,26],[39.0,-40,-22,-10,0,10,22],
  [39.3,-34,-20,-8,2,12,24],[39.6,-40,-24,-12,-2,10,30,50],[39.9,-64,-36,-20,-8,2,14],
  [40.2,-40,-22,-10,0,10,22],[40.5,-32,-18,-6,4,14,24],[40.8,-28,-16,-5,6,16,28],
  [41.1,-30,-18,-6,4,14,24],[41.4,-26,-14,-4,6,16,26],[41.7,-30,-16,-5,5,15,30],
  [42.0,-26,-14,-4,6,16,26],[42.3,-28,-15,-5,5,15,25],[42.6,-30,-16,-6,4,14,24],
  [42.9,-25,-14,-4,6,16],[43.2,-28,-16,-6,4,14],[43.5,-34,-18,-7,3,12],[43.8,-26,-14,-4,6,14],
  [44.1,-24,-12,-2,8,18],[44.3,100,94,90],[44.4,-30,-16,-5,5,15],[44.7,-28,-15,-4,6,16],
  [45.0,-24,-12,-2,8,18],[45.3,-30,-16,-5,5,14],[45.6,-26,-14,-4,6,16],[45.9,-32,-18,-6,4,14],
  [46.2,-28,-15,-4,6,16],[46.5,-30,-16,-5,5,15],[46.8,-26,-14,-4,6,16],[47.1,-22,-12,-2,8,18],
  [47.4,-72,-25,-12,-2,8],[47.7,-80,-28,-14,-4,6],[48.0,-24,-12,-2,8,18],[48.3,-26,-14,-4,6,16],
  [48.6,-30,-16,-6,4,14],[48.9,-24,-12,-2,8,18],[49.2,-28,-14,-4,6,16],[49.5,-55,-40,-20,-6,4,14],
  [50.4,-10,2,14,26],[50.7,-5,8,20,32],[51.0,0,12,24,36,48],[51.3,8,20,32,44,56,68],
  [51.6,12,24,36,48,60],[51.85,-30,20,36,50],
];
const fixed13Extra: number[][] = [
  [1.05,-1,3,7],[1.35,-2,2,6],[1.65,-3,1,5],[1.95,-2,2,5],[2.25,-3,1,5],[2.55,-2,2,6],[2.85,-1,3,6],
  [3.15,0,4,8],[3.45,1,5,9],[3.75,0,4,8],[4.05,0,4,8],[4.35,1,5,9],[4.65,0,4,8],[4.95,1,5,9],[5.25,0,4,8],
  [5.55,-1,3,7],[5.85,-2,2,6],[6.15,-3,1,5],[6.45,-4,0,4],[6.75,-5,0,4],[7.05,-4,0,4],[7.35,-3,1,5],
  [7.65,-1,3,7],[7.95,0,4,8],[8.25,2,6,10],[8.55,4,8,12],[8.85,7,11,15],[9.15,9,13,17],[9.45,8,12,16],
  [9.75,6,10,14],[10.05,5,9,13],[10.35,3,7,11],[10.65,2,6,10],[10.95,1,5,9],[11.25,0,4,8],[11.55,1,5,9],
  [11.85,0,4,8],[12.15,-1,3,7],[12.45,0,4,8],[12.75,-2,2,6],[13.05,-1,3,7],[13.35,-2,2,6],[13.65,-1,3,7],
  [13.95,-3,1,5],[14.25,-2,2,6],[14.55,-4,1,5],[14.85,-8,-1,6,12],
  [15.15,-9,-2,5,12],[15.45,-12,-4,3,10],[15.75,-7,0,7,14],[16.05,-10,-2,6,13],[16.35,-8,0,8,15],
  [16.65,-10,-2,6,14],[16.95,-6,2,10,17],[17.25,-4,4,12,19],[17.55,-2,6,14,21],[17.85,0,8,16,24],
  [18.15,2,10,18,26],[18.45,3,11,19,27],[18.75,2,10,18,25],[19.05,0,8,16,24],[19.35,-2,6,14,21],
  [19.65,-4,4,12,19],[19.95,-10,-2,6,13],[20.25,-14,-6,2,10],[20.55,-16,-8,0,8],[20.85,-15,-7,1,9],
  [21.15,-16,-8,0,8],[21.45,-14,-6,2,10],[21.75,-19,-10,-2,6],[22.05,-16,-8,0,8],[22.35,-12,-4,4,11],
  [22.65,-17,-8,0,8],[22.95,-16,-7,1,9],[23.25,-19,-9,-1,7],[23.55,-14,-6,2,10],[23.85,-17,-8,0,8],
  [24.15,-14,-6,2,10],[24.45,-12,-4,4,12],[24.75,-16,-7,1,9],[25.05,-13,-5,3,11],[25.35,-17,-8,0,8],
  [25.65,-15,-6,2,10],[25.95,-20,-10,-1,7],[26.25,-28,-18,-8,1,9],[26.55,-22,-11,-2,6],[26.85,-19,-10,-2,6],
  [27.15,-16,-8,0,7],[27.45,-21,-12,-4,3],[27.75,-24,-14,-6,2],[28.05,-20,-12,-4,3],[28.35,-23,-14,-6,2],
  [28.65,-26,-12,0,10],
  [32.25,-26,-12,-1,9,20],[32.55,-22,-10,1,12,24],[32.85,-30,-14,-3,7,18],[33.15,-22,-10,0,10,22],
  [33.45,-20,-9,1,11,23],[33.75,-28,-14,-3,7,18],[34.05,-24,-12,-1,9,20],[34.35,-30,-16,-5,5,16],
  [34.65,-20,-9,1,11,22],[34.95,-24,-12,-1,9,20],[35.25,-27,-14,-3,7,18],[35.55,-22,-10,1,11,24],
  [35.85,-20,-9,1,11,24],[36.15,-25,-12,-1,9,20],[36.45,-28,-14,-3,7,17],[36.75,-24,-11,0,10,22],
  [37.05,-27,-14,-3,8,20],[37.35,-22,-10,1,11,22],[37.65,-24,-12,-1,9,19],[37.95,-20,-8,2,14,27],
  [38.25,-22,-10,0,11,22],[38.55,-28,-14,-3,8,20],[38.85,-30,-16,-5,5,16],[39.15,-28,-14,-3,7,18],
  [39.45,-32,-18,-7,4,18],[39.75,-30,-14,-3,8,20],[40.05,-28,-15,-5,5,16],[40.35,-25,-12,-1,9,19],
  [40.65,-22,-10,1,11,22],[40.95,-24,-12,-1,9,19],[41.25,-20,-9,1,11,21],[41.55,-24,-11,0,10,22],
  [41.85,-20,-9,1,11,21],[42.15,-22,-10,0,10,20],[42.45,-24,-11,-1,9,19],[42.75,-20,-9,1,11],
  [43.05,-22,-11,-1,9],[43.35,-26,-12,-2,8],[43.65,-20,-9,1,10],[43.95,-19,-7,3,13],[44.25,-22,-10,0,10],
  [44.55,-22,-10,1,11],[44.85,-19,-7,3,13],[45.15,-24,-11,0,10],[45.45,-20,-9,1,11],[45.75,-25,-12,-1,9],
  [46.05,-22,-10,1,11],[46.35,-24,-11,0,10],[46.65,-20,-9,1,11],[46.95,-17,-7,3,13],[47.25,-20,-8,3,13],
  [47.55,-22,-9,1,11],[47.85,-19,-7,3,13],[48.15,-20,-9,1,11],[48.45,-24,-11,-1,9],[48.75,-19,-7,3,13],
  [49.05,-22,-9,1,11],[49.35,-30,-13,-1,9],
  [50.55,-4,8,20,30],[50.85,2,14,26,40],[51.15,4,16,28,40,52],[51.45,10,22,34,46,58],[51.75,14,26,40,52],
];

const unfixed13: number[][] = [
  [26.4,38],
  [49.7,100,90,80,70,60,50,40,30,20,10,0,-10,-20,-30,-40,-50,-60,-70,-80,-90],
  [49.9,95,85,75,65,55,45,35,25,15,5,-5,-15,-25,-35,-45,-55,-65,-75,-85,-96],
  [50.1,100,90,80,70,60,50,40,30,20,10,0,-10,-20,-30,-40,-50,-60,-70,-78],
  [50.25,96,86,76,66,56,46,36,26,16,6,-4,-14,-24,-34,-44,-54,-64],
  [50.8,-16,-22,-28,-36,-44,-50,-56,-82,-90],
];
const unfixed13Extra: number[][] = [
  [49.8,98,88,78,68,58,48,38,28,18,8,-2,-12,-22,-32,-42,-52,-62,-72,-82,-92],
  [50.0,94,84,74,64,54,44,34,24,14,4,-6,-16,-26,-36,-46,-56,-66,-76,-86],
  [50.2,92,82,72,62,52,42,32,22,12,2,-8,-18,-28,-38,-48,-58,-68],
];

const panels = [
  { fixed: [...fixed12, ...fixed12Extra], unfixed: [...unfixed12, ...unfixed12Extra] },
  { fixed: [...fixed23, ...fixed23Extra], unfixed: [...unfixed23, ...unfixed23Extra] },
  { fixed: [...fixed13, ...fixed13Extra], unfixed: [...unfixed13, ...unfixed13Extra] },
];

// rows [km, mm...] -> points [km, m]
const toPoints = (rows: number[][]) =>
  rows.flatMap(([x, ...ys]) => ys.map((y) => [x, y / 1000]));

const FONT = "'DejaVu Sans', sans-serif";
const AXIS_COLOR = '#262626';
const GRID_COLOR = '#dcdcdc';
const PLUS = 'path://M0,5L10,5M5,0L5,10';

const X_MIN = 0.88;
const X_MAX = 51.9;
const GRID_LEFT = 98;
const GRID_WIDTH = 953;
const GRID_HEIGHT = 179;
const gridTops = [103, 360, 617];
const legendTops = [124, 382, 638];
const subtitleY = [89, 346, 603];

function buildOption() {
  const grid: any[] = [];
  const xAxis: any[] = [];
  const yAxis: any[] = [];
  const series: any[] = [];
  const legend: any[] = [];
  const graphic: any[] = [
    {
      type: 'text',
      x: 559,
      y: 45,
      style: {
        text: mainTitle,
        font: `bold 24px ${FONT}`,
        fill: '#000',
        align: 'center',
        verticalAlign: 'middle',
        textAlign: 'center',
        textVerticalAlign: 'middle',
      },
    },
  ];

  panels.forEach((p, i) => {
    grid.push({ left: GRID_LEFT, top: gridTops[i], width: GRID_WIDTH, height: GRID_HEIGHT, show: false });
    const isLast = i === panels.length - 1;
    xAxis.push({
      type: 'value',
      gridIndex: i,
      position: 'bottom',
      min: X_MIN,
      max: X_MAX,
      splitNumber: 10,
      minInterval: 5,
      maxInterval: 5,
      axisLine: { onZero: false, lineStyle: { color: AXIS_COLOR, width: 1 } },
      axisTick: { inside: true, length: 9, lineStyle: { color: AXIS_COLOR } },
      axisLabel: {
        showMinLabel: false,
        showMaxLabel: false,
        color: AXIS_COLOR,
        fontFamily: FONT,
        fontWeight: 'bold',
        fontSize: 17,
        margin: 12,
      },
      splitLine: { show: true, lineStyle: { color: GRID_COLOR, width: 1 } },
      name: isLast ? xAxisTitle : '',
      nameLocation: 'middle',
      nameGap: 44,
      nameTextStyle: { color: AXIS_COLOR, fontFamily: FONT, fontWeight: 'bold', fontSize: 20 },
    });
    xAxis.push({
      type: 'value',
      gridIndex: i,
      position: 'top',
      min: X_MIN,
      max: X_MAX,
      splitNumber: 10,
      minInterval: 5,
      maxInterval: 5,
      axisLine: { onZero: false, lineStyle: { color: AXIS_COLOR, width: 1 } },
      axisTick: { inside: true, length: 9, lineStyle: { color: AXIS_COLOR } },
      axisLabel: { show: false },
      splitLine: { show: false },
    });
    yAxis.push({
      type: 'value',
      gridIndex: i,
      position: 'left',
      min: -0.1,
      max: 0.1,
      interval: 0.05,
      axisLine: { show: true, onZero: false, lineStyle: { color: AXIS_COLOR, width: 1 } },
      axisTick: { show: true, inside: true, length: 9, lineStyle: { color: AXIS_COLOR } },
      axisLabel: {
        color: AXIS_COLOR,
        fontFamily: FONT,
        fontWeight: 'bold',
        fontSize: 18,
        align: 'center',
        margin: 33,
      },
      splitLine: { show: true, lineStyle: { color: GRID_COLOR, width: 1 } },
      name: yAxisTitle,
      nameLocation: 'middle',
      nameRotate: 90,
      nameGap: 62,
      nameTextStyle: { color: AXIS_COLOR, fontFamily: FONT, fontWeight: 'bold', fontSize: 21 },
    });
    yAxis.push({
      type: 'value',
      gridIndex: i,
      position: 'right',
      min: -0.1,
      max: 0.1,
      interval: 0.05,
      axisLine: { show: true, onZero: false, lineStyle: { color: AXIS_COLOR, width: 1 } },
      axisTick: { show: true, inside: true, length: 9, lineStyle: { color: AXIS_COLOR } },
      axisLabel: { show: false },
      splitLine: { show: false },
    });

    const fixedName = `${legendLabels[0]}${i + 1}`;
    const unfixedName = `${legendLabels[1]}${i + 1}`;
    series.push({
      type: 'scatter',
      name: fixedName,
      xAxisIndex: i * 2,
      yAxisIndex: i * 2,
      data: toPoints(p.fixed),
      symbol: PLUS,
      symbolSize: 10,
      clip: false,
      z: 2,
      itemStyle: { color: 'rgba(0,0,0,0)', borderColor: fixedColors[i], borderWidth: 1.6 },
      emphasis: { disabled: true },
    });
    series.push({
      type: 'scatter',
      name: unfixedName,
      xAxisIndex: i * 2,
      yAxisIndex: i * 2,
      data: toPoints(p.unfixed),
      symbol: 'triangle',
      symbolSize: [11, 10],
      clip: false,
      z: 3,
      itemStyle: { color: 'rgba(0,0,0,0)', borderColor: '#000', borderWidth: 1.7 },
      emphasis: { disabled: true },
    });

    legend.push({
      show: true,
      orient: 'vertical',
      left: 869,
      top: legendTops[i],
      data: [fixedName, unfixedName],
      formatter: (name: string) => name.replace(/\d+$/, ''),
      backgroundColor: '#ffffff',
      borderColor: AXIS_COLOR,
      borderWidth: 1,
      borderRadius: 0,
      padding: [10, 7, 8, 41],
      itemWidth: 11,
      itemHeight: 10,
      itemGap: 11,
      selectedMode: false,
      itemStyle: { borderWidth: 1.2 },
      textStyle: {
        color: '#000',
        fontFamily: FONT,
        fontWeight: 'bold',
        fontSize: 16,
        padding: [0, 0, 0, 27],
      },
    });

    graphic.push({
      type: 'text',
      x: GRID_LEFT + GRID_WIDTH / 2,
      y: subtitleY[i],
      style: {
        text: panelTitles[i],
        font: `bold 21px ${FONT}`,
        fill: '#000',
        align: 'center',
        verticalAlign: 'middle',
        textAlign: 'center',
        textVerticalAlign: 'middle',
      },
    });
  });

  return {
    animation: false,
    backgroundColor: '#ffffff',
    grid,
    xAxis,
    yAxis,
    series,
    legend,
    graphic,
  };
}

export default function App() {
  const ref = useRef<HTMLDivElement>(null);
  useEffect(() => {
    document.body.style.margin = '0';
    if (!ref.current) return;
    const chart = echarts.init(ref.current, undefined, { renderer: 'svg' });
    chart.setOption(buildOption() as any);
    return () => chart.dispose();
  }, []);
  return <div ref={ref} style={{ width: 1053, height: 865 }} />;
}
